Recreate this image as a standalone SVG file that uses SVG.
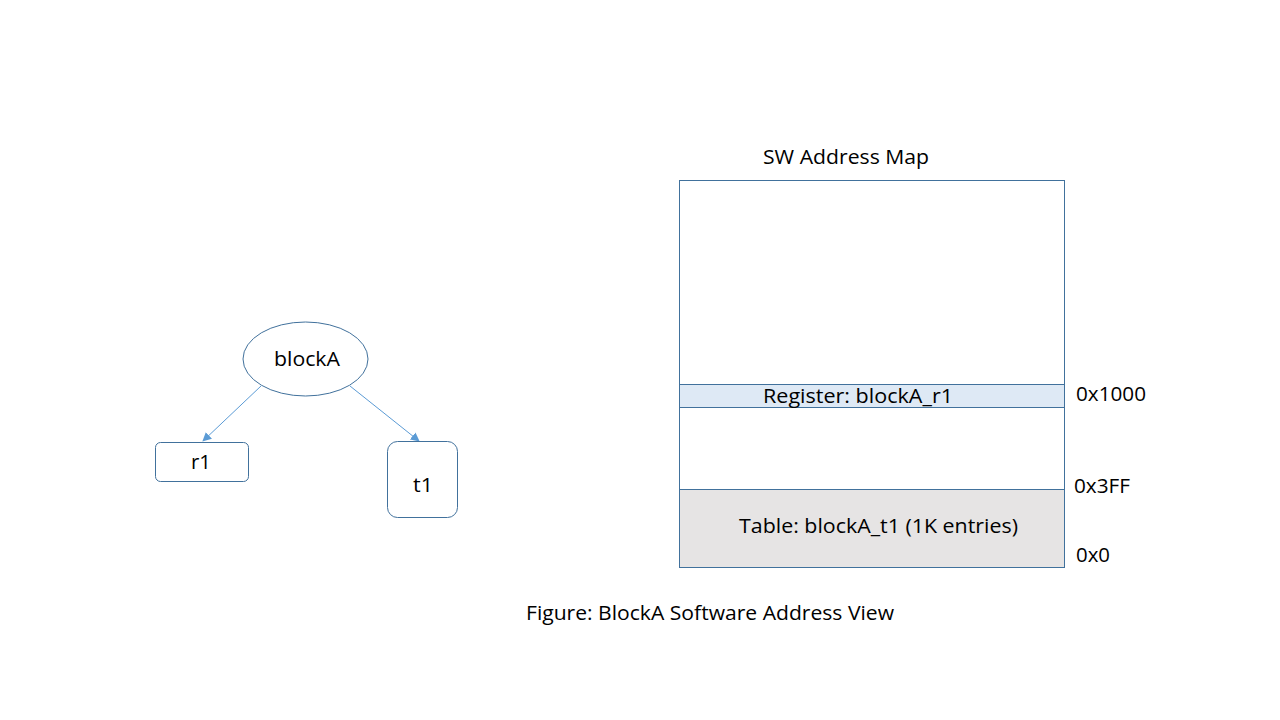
<svg xmlns="http://www.w3.org/2000/svg" width="1280" height="720" viewBox="0 0 1280 720">
<defs>
<marker id="arr" viewBox="0 0 10 10" refX="9" refY="5" markerWidth="9" markerHeight="9" markerUnits="userSpaceOnUse" orient="auto">
<path d="M0,0 L10,5 L0,10 z" fill="#5b9bd5"/>
</marker>
<style>
text{font-family:"Open Sans","Noto Sans","Liberation Sans",sans-serif;font-size:20px;fill:#000}
.node{fill:#fff;stroke:#41719c;stroke-width:1}
.edge{stroke:#5b9bd5;stroke-width:1;fill:none;marker-end:url(#arr)}
.map{stroke:#41719c;stroke-width:1}
</style>
</defs>
<rect width="1280" height="720" fill="#fff"/>
<g id="connectors">
<line class="edge" x1="261" y1="386" x2="203" y2="441"/>
<line class="edge" x1="350" y1="386" x2="419" y2="441"/>
</g>
<g id="blockA">
<ellipse class="node" cx="305.5" cy="359" rx="62.5" ry="37"/>
<text x="307" y="366" text-anchor="middle" textLength="66" lengthAdjust="spacingAndGlyphs">blockA</text>
</g>
<g id="r1">
<rect class="node" x="155.5" y="442.5" width="93" height="39" rx="5"/>
<text x="201" y="469" text-anchor="middle" textLength="20" lengthAdjust="spacingAndGlyphs">r1</text>
</g>
<g id="t1">
<rect class="node" x="387.5" y="441.5" width="70" height="76" rx="10"/>
<text x="423" y="492" text-anchor="middle" textLength="20" lengthAdjust="spacingAndGlyphs">t1</text>
</g>
<g id="addressMap">
<text x="763" y="164" textLength="166" lengthAdjust="spacingAndGlyphs">SW Address Map</text>
<rect class="map" x="679.5" y="180.5" width="385" height="387" fill="#fff"/>
<rect class="map" x="679.5" y="384.5" width="385" height="23" fill="#dee9f5"/>
<rect class="map" x="679.5" y="489.5" width="385" height="78" fill="#e6e4e4"/>
<text x="763" y="403" textLength="190" lengthAdjust="spacingAndGlyphs">Register: blockA_r1</text>
<text x="739" y="533" textLength="279" lengthAdjust="spacingAndGlyphs">Table: blockA_t1 (1K entries)</text>
<text x="1076" y="401" textLength="70" lengthAdjust="spacingAndGlyphs">0x1000</text>
<text x="1074" y="493" textLength="56" lengthAdjust="spacingAndGlyphs">0x3FF</text>
<text x="1076" y="562" textLength="34" lengthAdjust="spacingAndGlyphs">0x0</text>
</g>
<text x="526" y="620" textLength="368" lengthAdjust="spacingAndGlyphs">Figure: BlockA Software Address View</text>
</svg>
